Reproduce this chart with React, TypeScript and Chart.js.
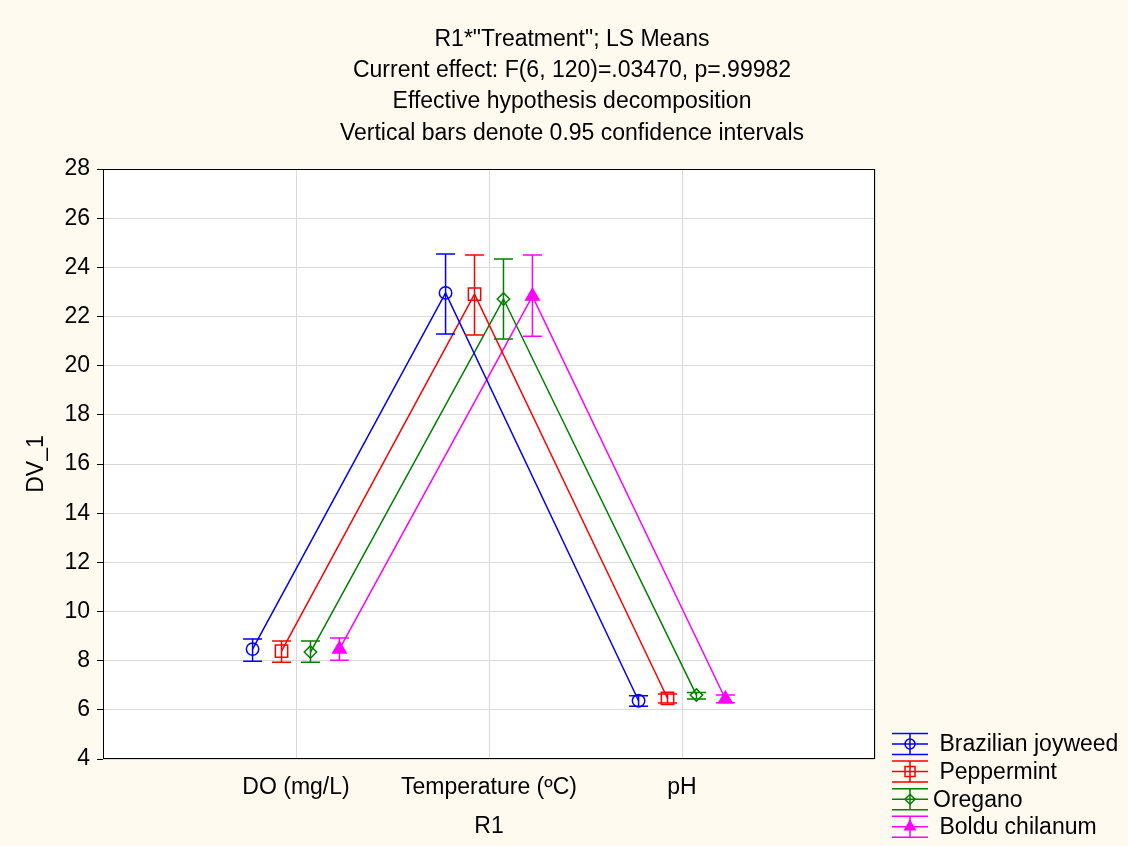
import React, { useEffect, useRef } from "react";
import { Chart, registerables } from "chart.js";

Chart.register(...registerables);

const categories = ["DO (mg/L)", "Temperature (ºC)", "pH"];
const titleLines = [
  'R1*"Treatment"; LS Means',
  "Current effect: F(6, 120)=.03470, p=.99982",
  "Effective hypothesis decomposition",
  "Vertical bars denote 0.95 confidence intervals",
];
const yTitle = "DV_1";
const xTitle = "R1";
const yMin = 4;
const yMax = 28;
const yStep = 2;

const seriesNames = [" Brazilian joyweed", " Peppermint", "Oregano", " Boldu chilanum"];
const seriesOffsets = [-0.225, -0.075, 0.075, 0.225];

const brazilianMean = [8.47, 22.96, 6.37];
const brazilianLow = [7.98, 21.29, 6.15];
const brazilianHigh = [8.88, 24.54, 6.57];

const peppermintMean = [8.39, 22.91, 6.47];
const peppermintLow = [7.94, 21.25, 6.28];
const peppermintHigh = [8.80, 24.50, 6.64];

const oreganoMean = [8.35, 22.71, 6.6];
const oreganoLow = [7.94, 21.08, 6.44];
const oreganoHigh = [8.80, 24.34, 6.71];

const bolduMean = [8.47, 22.83, 6.44];
const bolduLow = [8.02, 21.2, 6.29];
const bolduHigh = [8.92, 24.5, 6.6];

const means = [brazilianMean, peppermintMean, oreganoMean, bolduMean];
const lows = [brazilianLow, peppermintLow, oreganoLow, bolduLow];
const highs = [brazilianHigh, peppermintHigh, oreganoHigh, bolduHigh];

const colors = ["#0000FF", "#FF0000", "#008000", "#FF00FF"];
const pointStyles = ["circle", "rect", "rectRot", "triangle"];
const pointRadii = [6.2, 8.7, 6.2, 7.7];
const pointFills = ["rgba(0,0,0,0)", "rgba(0,0,0,0)", "rgba(0,0,0,0)", "#FF00FF"];

const FONT = "'Liberation Sans', Arial, sans-serif";
const FS = 23;
const BG = "#FFFAF0";
const LW = 1.5;

function drawMarker(ctx: CanvasRenderingContext2D, style: string, x: number, y: number, r: number, color: string, fill: boolean) {
  ctx.save();
  ctx.strokeStyle = color;
  ctx.fillStyle = color;
  ctx.lineWidth = LW;
  ctx.beginPath();
  if (style === "circle") {
    ctx.arc(x, y, r, 0, Math.PI * 2);
  } else if (style === "rect") {
    ctx.rect(x - r, y - r, 2 * r, 2 * r);
  } else if (style === "rectRot") {
    ctx.moveTo(x, y - r);
    ctx.lineTo(x + r, y);
    ctx.lineTo(x, y + r);
    ctx.lineTo(x - r, y);
    ctx.closePath();
  } else {
    const h = r * 0.866;
    ctx.moveTo(x, y - r);
    ctx.lineTo(x + h, y + r / 2);
    ctx.lineTo(x - h, y + r / 2);
    ctx.closePath();
  }
  if (fill) ctx.fill();
  ctx.stroke();
  ctx.restore();
}

const framePlugin = {
  id: "frame",
  beforeDraw(chart: any) {
    const { ctx, chartArea } = chart;
    ctx.save();
    ctx.fillStyle = BG;
    ctx.fillRect(0, 0, chart.width, chart.height);
    ctx.fillStyle = "#FFFFFF";
    ctx.fillRect(chartArea.left, chartArea.top, chartArea.right - chartArea.left, chartArea.bottom - chartArea.top);
    // title
    ctx.fillStyle = "#000000";
    ctx.font = `${FS}px ${FONT}`;
    ctx.textAlign = "center";
    ctx.textBaseline = "middle";
    titleLines.forEach((t, i) => ctx.fillText(t, 572, 39.5 + i * 31.3));
    ctx.restore();
  },
  afterDatasetsDraw(chart: any) {
    const { ctx } = chart;
    const xs = chart.scales.x;
    const ys = chart.scales.y;
    ctx.save();
    ctx.lineWidth = LW;
    for (let s = 0; s < means.length; s++) {
      ctx.strokeStyle = colors[s];
      for (let i = 0; i < categories.length; i++) {
        const x = xs.getPixelForValue(i + seriesOffsets[s]);
        const y1 = ys.getPixelForValue(lows[s][i]);
        const y2 = ys.getPixelForValue(highs[s][i]);
        ctx.beginPath();
        ctx.moveTo(x, y1);
        ctx.lineTo(x, y2);
        ctx.moveTo(x - 9.5, y1);
        ctx.lineTo(x + 9.5, y1);
        ctx.moveTo(x - 9.5, y2);
        ctx.lineTo(x + 9.5, y2);
        ctx.stroke();
      }
    }
    ctx.restore();
  },
  afterDraw(chart: any) {
    const { ctx, chartArea } = chart;
    ctx.save();
    ctx.strokeStyle = "#000000";
    ctx.lineWidth = 1;
    ctx.strokeRect(
      Math.round(chartArea.left) + 0.5,
      Math.round(chartArea.top) + 0.5,
      Math.round(chartArea.right - chartArea.left) - 1,
      Math.round(chartArea.bottom - chartArea.top) - 1
    );
    // legend
    const lx0 = 892;
    const lx1 = 928;
    const lcx = (lx0 + lx1) / 2;
    const textX = 933;
    const rowY0 = 744;
    const rowGap = 27.6;
    const half = 10.5;
    ctx.font = `${FS}px ${FONT}`;
    ctx.textBaseline = "middle";
    ctx.textAlign = "left";
    ctx.lineWidth = LW;
    for (let s = 0; s < seriesNames.length; s++) {
      const cy = rowY0 + s * rowGap;
      ctx.strokeStyle = colors[s];
      ctx.beginPath();
      for (const dy of [-half, 0, half]) {
        ctx.moveTo(lx0, cy + dy);
        ctx.lineTo(lx1, cy + dy);
      }
      ctx.moveTo(lcx, cy - half);
      ctx.lineTo(lcx, cy + half);
      ctx.stroke();
      drawMarker(ctx, pointStyles[s], lcx, cy, s === 3 ? 6 : 5, colors[s], s === 3);
      ctx.fillStyle = "#000000";
      ctx.fillText(seriesNames[s], textX, cy + 1);
    }
    ctx.restore();
  },
};

export default function App() {
  const ref = useRef<HTMLCanvasElement | null>(null);
  useEffect(() => {
    if (!ref.current) return;
    const datasets = means.map((m, s) => ({
      label: seriesNames[s].trim(),
      data: m.map((v, i) => ({ x: i + seriesOffsets[s], y: v })),
      borderColor: colors[s],
      backgroundColor: pointFills[s],
      borderWidth: LW,
      pointStyle: pointStyles[s] as any,
      pointRadius: pointRadii[s],
      pointBorderColor: colors[s],
      pointBackgroundColor: pointFills[s],
      pointBorderWidth: LW,
      showLine: true,
      tension: 0,
    }));
    const chart = new Chart(ref.current, {
      type: "scatter",
      data: { datasets },
      options: {
        animation: false,
        responsive: false,
        devicePixelRatio: 1,
        layout: { padding: { left: 0, right: 253, top: 169, bottom: 0 } },
        plugins: {
          legend: { display: false },
          tooltip: { enabled: false },
          title: { display: false },
        },
        scales: {
          x: {
            type: "linear",
            min: -1,
            max: 3,
            afterFit: (scale: any) => {
              scale.height = 87;
            },
            afterBuildTicks: (scale: any) => {
              scale.ticks = [-1, 0, 1, 2, 3].map((v) => ({ value: v }));
            },
            ticks: {
              autoSkip: false,
              maxRotation: 0,
              color: "#000",
              font: { family: FONT, size: FS },
              padding: 15,
              callback: (v: any) => (v >= 0 && v < categories.length ? categories[v] : ""),
            },
            grid: { color: "#DADADA", drawTicks: false, lineWidth: 1 },
            border: { display: false },
            title: {
              display: true,
              text: xTitle,
              color: "#000",
              font: { family: FONT, size: FS },
              padding: { top: 0, bottom: 6 },
            },
          },
          y: {
            type: "linear",
            min: yMin,
            max: yMax,
            afterFit: (scale: any) => {
              scale.width = 103;
            },
            ticks: {
              stepSize: yStep,
              color: "#000",
              font: { family: FONT, size: FS },
              padding: 7,
            },
            grid: { color: "#DADADA", tickColor: "#000", tickLength: 6, lineWidth: 1 },
            border: { display: false },
            title: {
              display: true,
              text: yTitle,
              color: "#000",
              font: { family: FONT, size: FS },
              padding: { top: 23, bottom: 0 },
            },
          },
        },
      },
      plugins: [framePlugin],
    });
    return () => chart.destroy();
  }, []);
  return (
    <div style={{ position: "fixed", left: 0, top: 0, width: 1128, height: 846 }}>
      <canvas ref={ref} width={1128} height={846} style={{ display: "block" }} />
    </div>
  );
}
